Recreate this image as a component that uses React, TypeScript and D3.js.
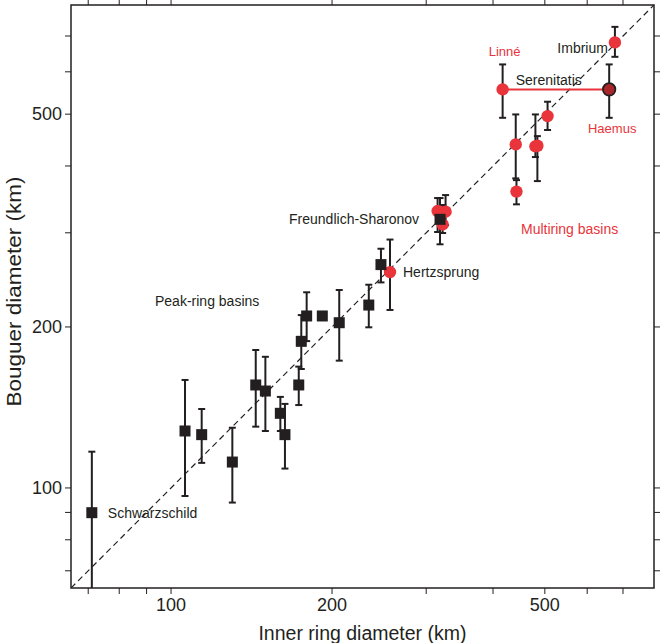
import React from "react";
import * as d3 from "d3";

// Peak-ring basins (black squares)
const peakX = [71.1, 106.2, 114.1, 130.2, 144.0, 150.1, 160.1, 163.3, 173.3, 175.2, 179.3, 191.8, 206.3, 234.3, 246.9, 318.4];
const peakY = [89.9, 127.8, 125.8, 111.8, 155.8, 151.8, 137.9, 125.8, 155.8, 188.0, 209.7, 209.7, 203.7, 219.8, 261.6, 317.9];
const peakLow = [60, 96.6, 111.4, 93.9, 130.2, 127.8, 127.8, 108.7, 142.9, 166.9, 188.2, null, 173.0, 199.7, 242.3, 285.5];
const peakHigh = [116.9, 159.2, 140.5, 129.6, 181.1, 175.9, 148.0, 143.6, 168.6, 210.5, 232.2, null, 234.5, 239.9, 280.1, 348.4];

// Multiring basins (red circles)
const multiNames = ["Hertzsprung", "", "", "", "", "", "", "", "", "Linné", "Haemus", "Imbrium"];
const multiX = [256.7, 315.1, 326.1, 322.0, 442.5, 441.1, 480.1, 484.2, 505.9, 416.9, 659.6, 676.1];
const multiY = [253.3, 329.5, 328.5, 311.0, 358.2, 439.0, 435.3, 436.4, 495.8, 556.3, 556.3, 680.8];
const multiLow = [215.2, 301.0, 310.1, 299.7, 339.1, 379.2, 415.7, 374.8, 467.0, 492.2, 492.2, 640.0];
const multiHigh = [291.4, 348.4, 352.9, 338.1, 376.4, 499.4, 499.4, 454.9, 527.5, 619.4, 619.4, 728.1];

const domain = [65, 800];
const majorTicks = [100, 200, 500];
const minorTicks = [70, 80, 90, 300, 400, 600, 700];

const W = 660, H = 643;
const L = 71, R = 654, T = 5, B = 588;
const INK = "#231f20";
const RED = "#e8343a";
const FONT = "'Liberation Sans', Arial, Helvetica, sans-serif";

export default function App() {
  const x = d3.scaleLog().domain(domain).range([L, R]);
  const y = d3.scaleLog().domain(domain).range([B, T]);
  const tickLen = 6;
  const cap = 3.5;

  const errBar = (cx: number, lo: number | null, hi: number | null, key: string) => {
    if (lo == null || hi == null) return null;
    const px = x(cx);
    const y1 = y(hi), y2 = y(lo);
    return (
      <g key={key} stroke={INK} strokeWidth={2}>
        <line x1={px} x2={px} y1={y1} y2={y2} />
        <line x1={px - cap} x2={px + cap} y1={y1} y2={y1} />
        {y2 < B ? <line x1={px - cap} x2={px + cap} y1={y2} y2={y2} /> : null}
      </g>
    );
  };

  const iL = multiNames.indexOf("Linné");
  const iH = multiNames.indexOf("Haemus");

  return (
    <svg width={W} height={H} style={{ position: "absolute", left: 0, top: 0, background: "#fff" }} fontFamily={FONT}>
      <defs>
        <clipPath id="plot">
          <rect x={L} y={T} width={R - L} height={B - T} />
        </clipPath>
      </defs>
      <rect x={0} y={0} width={W} height={H} fill="#fff" />
      <g clipPath="url(#plot)">
        <line x1={x(domain[0])} y1={y(domain[0])} x2={x(domain[1])} y2={y(domain[1])} stroke={INK} strokeWidth={1.2} strokeDasharray="6,4" />
        <line x1={x(multiX[iL])} x2={x(multiX[iH])} y1={y(multiY[iL])} y2={y(multiY[iH])} stroke={RED} strokeWidth={2} />
        {peakX.map((v, i) => errBar(v, peakLow[i], peakHigh[i], "pe" + i))}
        {multiX.map((v, i) => errBar(v, multiLow[i], multiHigh[i], "me" + i))}
        {multiX.map((v, i) => (
          <circle key={"mc" + i} cx={x(v)} cy={y(multiY[i])} r={6.2}
            fill={multiNames[i] === "Haemus" ? "#a8262a" : RED}
            stroke={multiNames[i] === "Haemus" ? INK : "none"} strokeWidth={1.8} />
        ))}
        {peakX.map((v, i) => (
          <rect key={"ps" + i} x={x(v) - 5.5} y={y(peakY[i]) - 5.5} width={11} height={11} fill={INK} />
        ))}
      </g>
      {/* frame */}
      <rect x={L} y={T} width={R - L} height={B - T} fill="none" stroke={INK} strokeWidth={1.5} />
      {/* ticks */}
      <g stroke={INK} strokeWidth={1}>
        {[...majorTicks, ...minorTicks].map((t) => (
          <g key={"t" + t}>
            <line x1={x(t)} x2={x(t)} y1={B} y2={B + tickLen} />
            <line x1={x(t)} x2={x(t)} y1={T} y2={T - tickLen} />
            <line x1={L} x2={L - tickLen} y1={y(t)} y2={y(t)} />
            <line x1={R} x2={R + tickLen} y1={y(t)} y2={y(t)} />
          </g>
        ))}
      </g>
      <g fill={INK} fontSize={18}>
        {majorTicks.map((t) => (
          <text key={"xl" + t} x={x(t)} y={611} textAnchor="middle">{t}</text>
        ))}
        {majorTicks.map((t) => (
          <text key={"yl" + t} x={62} y={y(t)} dy="0.35em" textAnchor="end">{t}</text>
        ))}
      </g>
      <text x={(L + R) / 2} y={640} textAnchor="middle" fontSize={19.5} fill={INK}>Inner ring diameter (km)</text>
      <text transform={`translate(21,${(T + B) / 2 - 5}) rotate(-90)`} textAnchor="middle" fontSize={19.5} fill={INK}
        textLength={230} lengthAdjust="spacingAndGlyphs">Bouguer diameter (km)</text>
      {/* annotations */}
      <g fontSize={14} fill={INK}>
        <text x={x(peakX[0]) + 16} y={y(peakY[0])} dy="0.35em">Schwarzschild</text>
        <text x={155} y={301} dy="0.35em">Peak-ring basins</text>
        <text x={x(peakX[15]) - 21} y={y(peakY[15])} dy="0.35em" textAnchor="end">Freundlich-Sharonov</text>
        <text x={x(multiX[0]) + 13} y={y(multiY[0])} dy="0.35em">Hertzsprung</text>
        <text x={x(multiX[11]) - 7} y={y(multiY[11]) + 5.5} dy="0.35em" textAnchor="end">Imbrium</text>
        <text x={515.7} y={80} dy="0.35em">Serenitatis</text>
      </g>
      <g fill={RED}>
        <text x={521} y={229} dy="0.35em" fontSize={14}>Multiring basins</text>
        <text x={x(multiX[iL]) + 2} y={51} dy="0.35em" fontSize={13} textAnchor="middle">Linné</text>
        <text x={x(multiX[iH]) + 3} y={128.3} dy="0.35em" fontSize={13} textAnchor="middle">Haemus</text>
      </g>
    </svg>
  );
}
